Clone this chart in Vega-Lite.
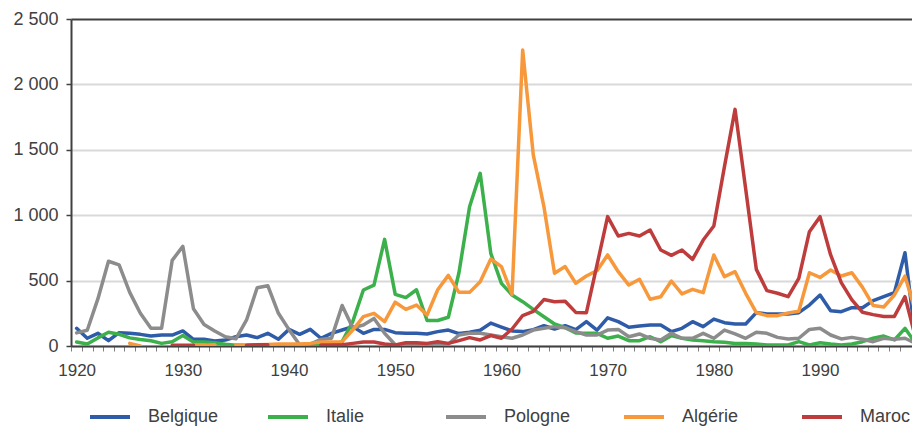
{
  "$schema": "https://vega.github.io/schema/vega-lite/v6.json",
  "width": 841,
  "height": 327,
  "autosize": "none",
  "padding": {"left": 71, "top": 19, "right": 0, "bottom": 82},
  "background": "white",
  "config": {"view": {"stroke": null}, "font": "Liberation Sans"},
  "data": {"values": [
    {"annee":1920,"Belgique":135,"Italie":30,"Pologne":100,"Algérie":null,"Maroc":null},
    {"annee":1921,"Belgique":59,"Italie":15,"Pologne":120,"Algérie":null,"Maroc":null},
    {"annee":1922,"Belgique":97,"Italie":62,"Pologne":360,"Algérie":null,"Maroc":null},
    {"annee":1923,"Belgique":41,"Italie":105,"Pologne":648,"Algérie":null,"Maroc":null},
    {"annee":1924,"Belgique":102,"Italie":90,"Pologne":620,"Algérie":null,"Maroc":null},
    {"annee":1925,"Belgique":97,"Italie":62,"Pologne":410,"Algérie":20,"Maroc":null},
    {"annee":1926,"Belgique":89,"Italie":50,"Pologne":250,"Algérie":0,"Maroc":null},
    {"annee":1927,"Belgique":76,"Italie":40,"Pologne":135,"Algérie":null,"Maroc":null},
    {"annee":1928,"Belgique":84,"Italie":20,"Pologne":135,"Algérie":null,"Maroc":null},
    {"annee":1929,"Belgique":84,"Italie":33,"Pologne":655,"Algérie":null,"Maroc":5},
    {"annee":1930,"Belgique":115,"Italie":80,"Pologne":762,"Algérie":null,"Maroc":5},
    {"annee":1931,"Belgique":51,"Italie":30,"Pologne":285,"Algérie":5,"Maroc":5},
    {"annee":1932,"Belgique":51,"Italie":30,"Pologne":165,"Algérie":5,"Maroc":null},
    {"annee":1933,"Belgique":38,"Italie":25,"Pologne":115,"Algérie":10,"Maroc":null},
    {"annee":1934,"Belgique":46,"Italie":13,"Pologne":70,"Algérie":null,"Maroc":null},
    {"annee":1935,"Belgique":71,"Italie":5,"Pologne":55,"Algérie":10,"Maroc":null},
    {"annee":1936,"Belgique":84,"Italie":5,"Pologne":199,"Algérie":5,"Maroc":5},
    {"annee":1937,"Belgique":64,"Italie":8,"Pologne":445,"Algérie":10,"Maroc":10},
    {"annee":1938,"Belgique":97,"Italie":5,"Pologne":461,"Algérie":12,"Maroc":10},
    {"annee":1939,"Belgique":51,"Italie":3,"Pologne":250,"Algérie":15,"Maroc":null},
    {"annee":1940,"Belgique":127,"Italie":3,"Pologne":125,"Algérie":15,"Maroc":null},
    {"annee":1941,"Belgique":89,"Italie":2,"Pologne":10,"Algérie":15,"Maroc":null},
    {"annee":1942,"Belgique":127,"Italie":2,"Pologne":15,"Algérie":20,"Maroc":null},
    {"annee":1943,"Belgique":59,"Italie":3,"Pologne":50,"Algérie":30,"Maroc":8},
    {"annee":1944,"Belgique":97,"Italie":5,"Pologne":60,"Algérie":30,"Maroc":8},
    {"annee":1945,"Belgique":122,"Italie":33,"Pologne":310,"Algérie":33,"Maroc":10},
    {"annee":1946,"Belgique":148,"Italie":186,"Pologne":140,"Algérie":122,"Maroc":20},
    {"annee":1947,"Belgique":97,"Italie":428,"Pologne":160,"Algérie":224,"Maroc":30},
    {"annee":1948,"Belgique":127,"Italie":466,"Pologne":211,"Algérie":250,"Maroc":30},
    {"annee":1949,"Belgique":127,"Italie":815,"Pologne":97,"Algérie":186,"Maroc":15},
    {"annee":1950,"Belgique":102,"Italie":395,"Pologne":10,"Algérie":335,"Maroc":8},
    {"annee":1951,"Belgique":97,"Italie":370,"Pologne":10,"Algérie":280,"Maroc":25},
    {"annee":1952,"Belgique":97,"Italie":430,"Pologne":10,"Algérie":313,"Maroc":25},
    {"annee":1953,"Belgique":92,"Italie":195,"Pologne":10,"Algérie":237,"Maroc":20},
    {"annee":1954,"Belgique":110,"Italie":195,"Pologne":15,"Algérie":430,"Maroc":33},
    {"annee":1955,"Belgique":122,"Italie":220,"Pologne":15,"Algérie":540,"Maroc":20},
    {"annee":1956,"Belgique":95,"Italie":560,"Pologne":84,"Algérie":410,"Maroc":41},
    {"annee":1957,"Belgique":105,"Italie":1065,"Pologne":97,"Algérie":410,"Maroc":64},
    {"annee":1958,"Belgique":120,"Italie":1320,"Pologne":97,"Algérie":492,"Maroc":46},
    {"annee":1959,"Belgique":175,"Italie":708,"Pologne":84,"Algérie":665,"Maroc":80},
    {"annee":1960,"Belgique":145,"Italie":479,"Pologne":71,"Algérie":607,"Maroc":59},
    {"annee":1961,"Belgique":115,"Italie":390,"Pologne":59,"Algérie":395,"Maroc":130},
    {"annee":1962,"Belgique":110,"Italie":339,"Pologne":84,"Algérie":2263,"Maroc":233},
    {"annee":1963,"Belgique":125,"Italie":280,"Pologne":122,"Algérie":1461,"Maroc":265},
    {"annee":1964,"Belgique":155,"Italie":224,"Pologne":135,"Algérie":1066,"Maroc":355},
    {"annee":1965,"Belgique":130,"Italie":168,"Pologne":148,"Algérie":556,"Maroc":339},
    {"annee":1966,"Belgique":155,"Italie":140,"Pologne":140,"Algérie":607,"Maroc":342},
    {"annee":1967,"Belgique":125,"Italie":100,"Pologne":110,"Algérie":480,"Maroc":257},
    {"annee":1968,"Belgique":186,"Italie":97,"Pologne":84,"Algérie":535,"Maroc":255},
    {"annee":1969,"Belgique":122,"Italie":97,"Pologne":84,"Algérie":576,"Maroc":620},
    {"annee":1970,"Belgique":215,"Italie":59,"Pologne":122,"Algérie":696,"Maroc":989},
    {"annee":1971,"Belgique":186,"Italie":76,"Pologne":127,"Algérie":568,"Maroc":841},
    {"annee":1972,"Belgique":143,"Italie":41,"Pologne":71,"Algérie":466,"Maroc":861},
    {"annee":1973,"Belgique":153,"Italie":41,"Pologne":92,"Algérie":510,"Maroc":841},
    {"annee":1974,"Belgique":160,"Italie":71,"Pologne":59,"Algérie":357,"Maroc":887},
    {"annee":1975,"Belgique":160,"Italie":33,"Pologne":46,"Algérie":377,"Maroc":734},
    {"annee":1976,"Belgique":110,"Italie":79,"Pologne":97,"Algérie":497,"Maroc":693},
    {"annee":1977,"Belgique":135,"Italie":59,"Pologne":59,"Algérie":398,"Maroc":734},
    {"annee":1978,"Belgique":186,"Italie":46,"Pologne":59,"Algérie":433,"Maroc":662},
    {"annee":1979,"Belgique":148,"Italie":41,"Pologne":97,"Algérie":408,"Maroc":810},
    {"annee":1980,"Belgique":206,"Italie":33,"Pologne":59,"Algérie":696,"Maroc":917},
    {"annee":1981,"Belgique":178,"Italie":28,"Pologne":122,"Algérie":530,"Maroc":1371},
    {"annee":1982,"Belgique":168,"Italie":20,"Pologne":92,"Algérie":568,"Maroc":1809},
    {"annee":1983,"Belgique":168,"Italie":20,"Pologne":59,"Algérie":403,"Maroc":1200},
    {"annee":1984,"Belgique":255,"Italie":15,"Pologne":105,"Algérie":255,"Maroc":586},
    {"annee":1985,"Belgique":245,"Italie":8,"Pologne":97,"Algérie":232,"Maroc":423},
    {"annee":1986,"Belgique":245,"Italie":8,"Pologne":66,"Algérie":232,"Maroc":403},
    {"annee":1987,"Belgique":245,"Italie":8,"Pologne":54,"Algérie":252,"Maroc":377},
    {"annee":1988,"Belgique":255,"Italie":33,"Pologne":59,"Algérie":265,"Maroc":517},
    {"annee":1989,"Belgique":313,"Italie":8,"Pologne":127,"Algérie":560,"Maroc":874},
    {"annee":1990,"Belgique":390,"Italie":25,"Pologne":135,"Algérie":524,"Maroc":989},
    {"annee":1991,"Belgique":270,"Italie":15,"Pologne":84,"Algérie":581,"Maroc":696},
    {"annee":1992,"Belgique":262,"Italie":8,"Pologne":54,"Algérie":535,"Maroc":484},
    {"annee":1993,"Belgique":293,"Italie":15,"Pologne":66,"Algérie":560,"Maroc":352},
    {"annee":1994,"Belgique":293,"Italie":33,"Pologne":51,"Algérie":448,"Maroc":258},
    {"annee":1995,"Belgique":347,"Italie":59,"Pologne":33,"Algérie":310,"Maroc":240},
    {"annee":1996,"Belgique":377,"Italie":76,"Pologne":59,"Algérie":298,"Maroc":226},
    {"annee":1997,"Belgique":408,"Italie":46,"Pologne":51,"Algérie":390,"Maroc":226},
    {"annee":1998,"Belgique":713,"Italie":135,"Pologne":59,"Algérie":535,"Maroc":377},
    {"annee":1999,"Belgique":50,"Italie":20,"Pologne":20,"Algérie":260,"Maroc":60}
  ]},
  "transform": [
    {"fold": ["Belgique", "Italie", "Pologne", "Algérie", "Maroc"], "as": ["pays", "valeur"]}
  ],
  "mark": {"type": "line", "strokeWidth": 3.5, "clip": true, "invalid": "break-paths-show-domains", "strokeJoin": "round", "strokeCap": "round"},
  "encoding": {
    "x": {
      "field": "annee", "type": "quantitative",
      "scale": {"domain": [1919.47, 1998.66], "nice": false, "zero": false},
      "axis": {
        "title": null,
        "values": [1920,1921,1922,1923,1924,1925,1926,1927,1928,1929,1930,1931,1932,1933,1934,1935,1936,1937,1938,1939,1940,1941,1942,1943,1944,1945,1946,1947,1948,1949,1950,1951,1952,1953,1954,1955,1956,1957,1958,1959,1960,1961,1962,1963,1964,1965,1966,1967,1968,1969,1970,1971,1972,1973,1974,1975,1976,1977,1978,1979,1980,1981,1982,1983,1984,1985,1986,1987,1988,1989,1990,1991,1992,1993,1994,1995,1996,1997,1998],
        "tickOffset": -5.31,
        "labelOffset": 5.31,
        "labelExpr": "datum.value % 10 === 0 ? '' + datum.value : ''",
        "grid": false,
        "domainColor": "#404040",
        "domainWidth": 2,
        "tickColor": "#7f7f7f",
        "tickSize": 5,
        "tickWidth": 1,
        "labelFontSize": 17,
        "labelColor": "#404040",
        "labelPadding": 11,
        "labelOverlap": false,
        "labelFlush": false
      }
    },
    "y": {
      "field": "valeur", "type": "quantitative",
      "scale": {"domain": [0, 2500], "nice": false},
      "axis": {
        "title": null,
        "values": [0, 500, 1000, 1500, 2000, 2500],
        "labelExpr": "replace(format(datum.value, ','), ',', ' ')",
        "labelFontSize": 18,
        "labelColor": "#404040",
        "labelPadding": 8,
        "tickSize": 5,
        "tickColor": "#404040",
        "tickWidth": 1.5,
        "domainColor": "#404040",
        "domainWidth": 2,
        "gridColor": {"condition": {"test": "datum.value === 2500", "value": "#404040"}, "value": "#d9d9d9"},
        "gridWidth": 2
      }
    },
    "color": {
      "field": "pays", "type": "nominal",
      "scale": {
        "domain": ["Belgique", "Italie", "Pologne", "Algérie", "Maroc"],
        "range": ["#2f5ca8", "#3bb04b", "#8c8c8c", "#f7983b", "#be3c3c"]
      },
      "legend": {
        "orient": "none",
        "legendX": 17,
        "legendY": 376,
        "direction": "horizontal",
        "title": null,
        "symbolType": "stroke",
        "symbolSize": 1600,
        "symbolStrokeWidth": 4,
        "labelFontSize": 18,
        "labelColor": "#404040",
        "labelOffset": 16,
        "columnPadding": 41,
        "gridAlign": "all",
        "padding": 0,
        "labelLimit": 200
      }
    }
  }
}
